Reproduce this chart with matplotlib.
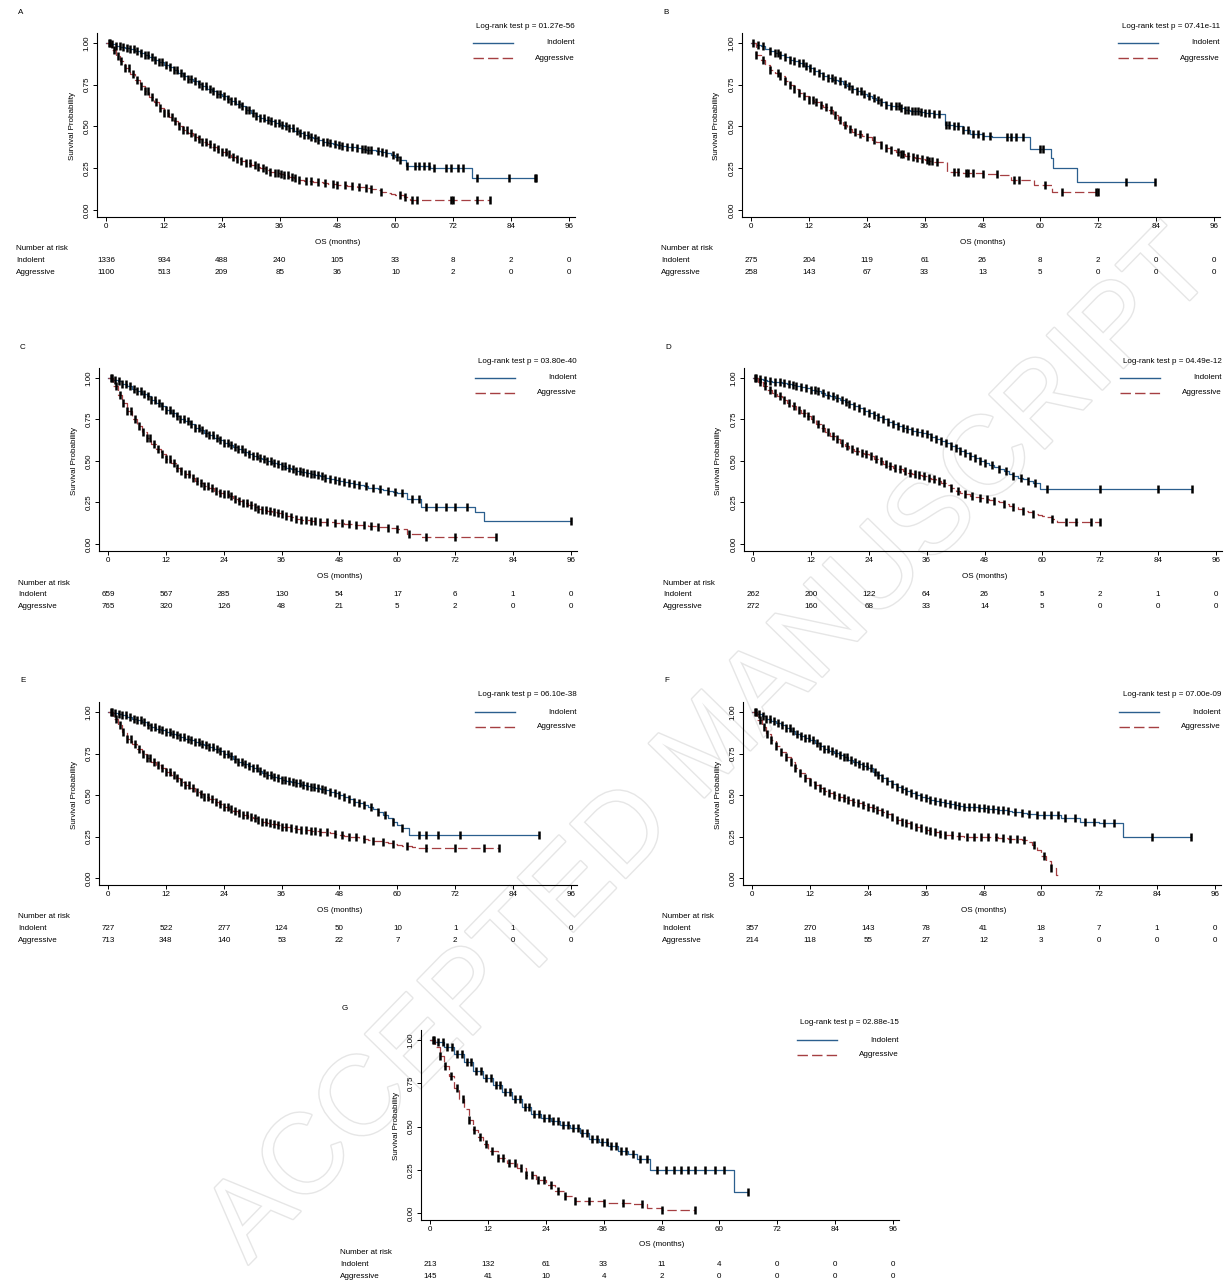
import numpy as np
import matplotlib
matplotlib.use("Agg")
import matplotlib.pyplot as plt
import matplotlib.patheffects as pe
from matplotlib.lines import Line2D

plt.rcParams["font.family"] = ["Liberation Sans", "DejaVu Sans"]

W, H = 1227, 1283
IND_COLOR = "#2b5f8e"
AGG_COLOR = "#a53f42"

# =========================
# data
# =========================
months = [0, 12, 24, 36, 48, 60, 72, 84, 96]
y_ticks = [0.0, 0.25, 0.50, 0.75, 1.00]
panel_labels = ["A", "B", "C", "D", "E", "F", "G"]
p_values = ["01.27e-56", "07.41e-11", "03.80e-40", "04.49e-12",
            "06.10e-38", "07.00e-09", "02.88e-15"]

risk_ind = [
    [1336, 934, 488, 240, 105, 33, 8, 2, 0],
    [275, 204, 119, 61, 26, 8, 2, 0, 0],
    [659, 567, 285, 130, 54, 17, 6, 1, 0],
    [262, 200, 122, 64, 26, 5, 2, 1, 0],
    [727, 522, 277, 124, 50, 10, 1, 1, 0],
    [357, 270, 143, 78, 41, 18, 7, 1, 0],
    [213, 132, 61, 33, 11, 4, 0, 0, 0],
]
risk_agg = [
    [1100, 513, 209, 85, 36, 10, 2, 0, 0],
    [258, 143, 67, 33, 13, 5, 0, 0, 0],
    [765, 320, 126, 48, 21, 5, 2, 0, 0],
    [272, 160, 68, 33, 14, 5, 0, 0, 0],
    [713, 348, 140, 53, 22, 7, 2, 0, 0],
    [214, 118, 55, 27, 12, 3, 0, 0, 0],
    [145, 41, 10, 4, 2, 0, 0, 0, 0],
]

# survival read month by month, then the visible late steps
# panel A
a_ind_t = list(range(0, 62)) + [62.3, 67.2, 75.8, 89.2]
a_ind_s = [1.0, .995, .985, .978, .97, .963, .955, .94, .93, .915,
           .90, .885, .87, .855, .84, .82, .80, .785, .77, .755,
           .74, .725, .71, .695, .68, .665, .65, .635, .62, .60,
           .58, .565, .55, .54, .53, .52, .51, .50, .49, .475,
           .46, .45, .44, .43, .42, .41, .40, .395, .39, .385,
           .38, .375, .37, .365, .36, .357, .355, .35, .34, .33,
           .32, .30,
           .266, .25, .19, .19]
a_ind_c = [0.6, 1.3, 2.1, 2.8, 3.5, 4.3, 5.0, 5.8, 6.5, 7.2, 8.0, 8.7, 9.5, 10.2, 11.0, 11.7,
           12.5, 13.2, 14.0, 14.7, 15.5, 16.2, 17.0, 17.7, 18.5, 19.2, 20.0, 20.7, 21.5, 22.2,
           23.0, 23.7, 24.5, 25.2, 26.0, 26.7, 27.5, 28.2, 29.0, 29.7, 30.5, 31.2, 32.0, 32.7,
           33.5, 34.2, 35.0, 35.8, 36.5, 37.3, 38.0, 38.8, 39.5, 40.3, 41.0, 41.8, 42.5, 43.3,
           44.0, 45.0, 45.8, 46.5, 47.5, 48.3, 49.0, 50.0, 51.0, 52.0, 53.0, 53.6, 54.3, 55.0,
           56.5, 57.2, 58.0, 59.5, 60.3, 61.0, 62.5, 64.0, 65.0, 66.0, 67.0, 68.0, 70.5, 71.5,
           73.0, 74.0, 77.0, 83.5, 89.0, 89.2]
a_agg_t = list(range(0, 61)) + [61.7, 63, 79.7]
a_agg_s = [1.0, .96, .925, .89, .85, .815, .78, .745, .71, .675,
           .645, .61, .58, .555, .53, .505, .48, .46, .44, .425,
           .41, .395, .38, .365, .35, .335, .32, .307, .295, .282,
           .27, .26, .25, .24, .23, .222, .215, .207, .20, .19,
           .18, .176, .172, .168, .165, .161, .157, .153, .15, .148,
           .145, .142, .14, .135, .13, .125, .12, .11, .10, .095,
           .09,
           .08, .06, .06]
a_agg_c = [0.8, 1.6, 2.4, 3.2, 4.0, 4.8, 5.6, 6.4, 7.2, 8.0, 8.8, 9.6, 10.4, 11.2, 12.0, 12.8,
           13.6, 14.4, 15.2, 16.0, 16.8, 17.6, 18.4, 19.2, 20.0, 20.8, 21.6, 22.4, 23.2, 24.0,
           24.8, 25.6, 26.4, 27.2, 28.0, 29.0, 29.8, 30.8, 31.5, 32.5, 33.2, 34.0, 35.0, 35.6,
           36.3, 37.0, 37.8, 38.5, 39.2, 40.0, 41.5, 42.5, 44.0, 45.5, 47.0, 48.0, 49.5, 51.0,
           52.5, 54.0, 55.0, 57.0, 61.0, 62.0, 63.5, 64.5, 71.5, 72.0, 77.0, 79.7]

# panel B
b_ind_t = list(range(0, 41)) + [40.3, 42, 44, 45.4, 48, 50, 57.8, 62.2, 62.6, 67.6, 83.7]
b_ind_s = [1.0, .99, .98, .965, .95, .94, .93, .915, .90, .89,
           .88, .865, .85, .835, .82, .805, .79, .78, .77, .755,
           .74, .725, .71, .695, .68, .67, .66, .645, .63, .625,
           .62, .61, .60, .595, .59, .585, .58, .578, .575, .575,
           .575,
           .51, .50, .48, .455, .445, .435, .366, .31, .25, .168, .168]
b_ind_c = [0.5, 1.5, 2.5, 4.0, 5.0, 5.5, 6.0, 7.0, 8.0, 9.0, 10.0, 10.8, 11.5, 12.3, 13.0,
           14.0, 15.0, 16.0, 16.8, 17.5, 18.5, 19.5, 20.3, 21.0, 22.0, 22.8, 23.5, 24.5, 25.5,
           26.3, 27.0, 28.0, 29.0, 30.0, 30.6, 31.2, 32.0, 32.6, 33.3, 34.0, 34.6, 35.2, 36.0,
           37.0, 38.0, 39.0, 40.5, 41.0, 42.0, 43.0, 44.0, 45.0, 46.0, 47.0, 48.0, 49.5, 53.0,
           54.0, 55.0, 56.5, 60.0, 60.5, 77.8, 83.7]
b_agg_t = list(range(0, 41)) + [40.7, 44, 48, 51.6, 54, 58.6, 62.5, 72]
b_agg_s = [1.0, .93, .90, .87, .84, .82, .80, .775, .75, .725,
           .70, .68, .66, .645, .63, .615, .60, .57, .54, .51,
           .485, .47, .455, .445, .435, .42, .41, .39, .37, .36,
           .35, .337, .325, .317, .31, .305, .30, .295, .29, .29,
           .29,
           .228, .222, .218, .208, .178, .149, .109, .109]
b_agg_c = [1.0, 2.5, 4.0, 5.5, 6.0, 7.0, 8.0, 9.0, 10.0, 11.0, 12.0, 12.8, 13.5, 14.5, 15.5,
           16.5, 17.5, 18.5, 19.5, 20.5, 21.5, 22.5, 24.0, 25.5, 27.0, 28.0, 29.0, 30.5, 31.0,
           31.5, 32.5, 33.5, 34.5, 35.5, 36.5, 37.0, 37.5, 38.5, 42.0, 43.0, 44.5, 45.0, 46.0,
           48.0, 51.0, 54.5, 55.5, 61.0, 64.5, 71.5, 72.0]

# panel C
c_ind_t = list(range(0, 61)) + [62, 65, 76, 78, 96]
c_ind_s = [1.0, .99, .98, .965, .95, .935, .92, .905, .89, .87,
           .85, .83, .81, .79, .77, .755, .74, .72, .70, .685,
           .67, .655, .64, .625, .61, .597, .583, .57, .557, .543,
           .53, .52, .51, .50, .49, .48, .47, .46, .45, .44,
           .433, .427, .42, .413, .407, .40, .393, .387, .38, .373,
           .367, .36, .353, .347, .34, .335, .33, .325, .32, .315,
           .31,
           .27, .22, .19, .14, .14]
c_ind_c = [0.7, 1.5, 2.3, 3.0, 3.8, 4.5, 5.3, 6.0, 6.8, 7.5, 8.3, 9.0, 9.8, 10.5, 11.3, 12.0,
           12.8, 13.5, 14.3, 15.0, 15.8, 16.5, 17.3, 18.0, 18.8, 19.5, 20.3, 21.0, 21.8, 22.5,
           23.3, 24.0, 24.8, 25.5, 26.3, 27.0, 27.8, 28.5, 29.3, 30.0, 30.8, 31.5, 32.3, 33.0,
           33.8, 34.5, 35.3, 36.0, 36.8, 37.5, 38.3, 39.0, 39.8, 40.5, 41.3, 42.0, 42.8, 43.5,
           44.3, 45.0, 46.0, 47.0, 48.0, 49.0, 50.0, 51.0, 52.0, 53.5, 55.0, 56.5, 58.0, 59.5,
           61.0, 63.0, 64.5, 66.0, 68.0, 70.0, 72.0, 74.5, 96.0]
c_agg_t = list(range(0, 61)) + [62, 65, 80.5]
c_agg_s = [1.0, .95, .90, .85, .80, .755, .71, .675, .64, .605,
           .57, .54, .51, .485, .46, .44, .42, .40, .38, .365,
           .35, .335, .32, .31, .30, .287, .273, .26, .247, .233,
           .22, .213, .207, .20, .193, .187, .18, .17, .16, .152,
           .145, .142, .14, .137, .135, .132, .13, .127, .125, .122,
           .12, .117, .115, .112, .11, .107, .105, .10, .097, .095,
           .09,
           .06, .04, .04]
c_agg_c = [0.8, 1.6, 2.4, 3.2, 4.0, 4.8, 5.6, 6.4, 7.2, 8.0, 8.8, 9.6, 10.4, 11.2, 12.0, 12.8,
           13.6, 14.4, 15.2, 16.0, 16.8, 17.6, 18.4, 19.2, 20.0, 20.8, 21.6, 22.4, 23.2, 24.0,
           24.8, 25.6, 26.4, 27.2, 28.0, 28.8, 29.6, 30.4, 31.2, 32.0, 32.8, 33.6, 34.4, 35.2,
           36.0, 37.0, 38.0, 39.0, 40.0, 41.0, 42.0, 43.0, 44.0, 45.5, 47.0, 48.5, 50.0, 51.5,
           53.0, 54.5, 56.0, 58.0, 60.0, 62.5, 66.0, 72.0, 80.5]

# panel D
d_ind_t = list(range(0, 59)) + [59.5, 91]
d_ind_s = [1.0, .995, .99, .98, .977, .973, .97, .963, .957, .95,
           .943, .937, .93, .92, .91, .90, .89, .88, .87, .857,
           .843, .83, .817, .803, .79, .777, .763, .75, .737, .723,
           .71, .70, .69, .68, .673, .667, .66, .647, .633, .62,
           .607, .593, .58, .563, .547, .53, .517, .503, .49, .477,
           .463, .45, .437, .423, .41, .40, .39, .38, .37,
           .33, .33]
d_ind_c = [0.5, 1.5, 2.5, 3.5, 4.5, 5.5, 6.5, 7.5, 8.3, 9.0, 10.0, 11.0, 12.0, 12.8, 13.5,
           14.5, 15.5, 16.5, 17.5, 18.5, 19.3, 20.0, 21.0, 22.0, 23.0, 24.0, 25.0, 26.0, 27.0,
           28.0, 29.0, 30.0, 31.0, 32.0, 33.0, 34.0, 35.0, 36.0, 37.0, 38.0, 39.0, 40.0, 41.0,
           42.0, 43.0, 44.0, 45.0, 46.0, 47.0, 48.0, 49.5, 51.0, 52.5, 54.0, 55.5, 57.0, 58.5,
           61.0, 72.0, 84.0, 91.0]
d_agg_t = list(range(0, 63)) + [63, 72]
d_agg_s = [1.0, .975, .95, .93, .91, .89, .87, .85, .83, .81,
           .79, .77, .75, .725, .70, .675, .65, .63, .61, .59,
           .57, .56, .55, .54, .53, .513, .497, .48, .47, .46,
           .45, .44, .43, .42, .413, .407, .40, .39, .38, .37,
           .353, .337, .32, .31, .30, .29, .283, .277, .27, .263,
           .257, .25, .24, .23, .22, .21, .20, .19, .183, .177,
           .17, .16, .15,
           .13, .13]
d_agg_c = [0.7, 1.5, 2.5, 3.5, 4.5, 5.5, 6.5, 7.5, 8.5, 9.5, 10.5, 11.5, 12.5, 13.5, 14.5,
           15.5, 16.5, 17.5, 18.5, 19.5, 20.5, 21.5, 22.5, 23.5, 24.5, 25.5, 26.5, 27.5, 28.5,
           29.5, 30.5, 31.5, 32.5, 33.5, 34.5, 35.5, 36.5, 37.5, 38.5, 39.5, 41.0, 42.5, 44.0,
           45.5, 47.0, 48.5, 50.0, 52.0, 54.0, 56.0, 58.0, 62.0, 65.0, 67.0, 70.0, 72.0]

# panel E
e_ind_t = list(range(0, 62)) + [62.5, 89.4]
e_ind_s = [1.0, .995, .99, .98, .97, .96, .95, .937, .923, .91,
           .90, .89, .88, .87, .86, .85, .84, .83, .82, .81,
           .80, .79, .777, .763, .75, .733, .717, .70, .687, .673,
           .66, .647, .633, .62, .61, .60, .59, .583, .577, .57,
           .563, .557, .55, .543, .537, .53, .52, .51, .50, .487,
           .473, .46, .45, .44, .43, .415, .40, .38, .36, .34,
           .32, .30,
           .26, .26]
e_ind_c = [0.7, 1.5, 2.3, 3.0, 3.8, 4.5, 5.3, 6.0, 6.8, 7.5, 8.3, 9.0, 9.8, 10.5, 11.3, 12.0,
           12.8, 13.5, 14.3, 15.0, 15.8, 16.5, 17.3, 18.0, 18.8, 19.5, 20.3, 21.0, 21.8, 22.5,
           23.3, 24.0, 24.8, 25.5, 26.3, 27.0, 27.8, 28.5, 29.3, 30.0, 30.8, 31.5, 32.3, 33.0,
           33.8, 34.5, 35.3, 36.0, 36.8, 37.5, 38.3, 39.0, 39.8, 40.5, 41.3, 42.0, 42.8, 43.5,
           44.3, 45.0, 46.0, 47.0, 48.0, 49.0, 50.0, 51.0, 52.0, 53.0, 54.5, 56.0, 57.5, 59.0,
           61.0, 64.5, 66.0, 68.5, 73.0, 89.4]
e_agg_t = list(range(0, 64)) + [64, 81]
e_agg_s = [1.0, .96, .92, .88, .84, .81, .78, .75, .72, .70,
           .68, .66, .64, .62, .60, .58, .56, .54, .52, .505,
           .49, .475, .46, .445, .43, .417, .403, .39, .38, .37,
           .36, .35, .34, .33, .323, .317, .31, .305, .30, .295,
           .29, .288, .285, .283, .28, .275, .27, .265, .26, .255,
           .25, .245, .24, .235, .23, .225, .22, .215, .21, .205,
           .20, .195, .19, .185,
           .18, .18]
e_agg_c = [0.8, 1.6, 2.4, 3.2, 4.0, 4.8, 5.6, 6.4, 7.2, 8.0, 8.8, 9.6, 10.4, 11.2, 12.0, 12.8,
           13.6, 14.4, 15.2, 16.0, 16.8, 17.6, 18.4, 19.2, 20.0, 20.8, 21.6, 22.4, 23.2, 24.0,
           24.8, 25.6, 26.4, 27.2, 28.0, 28.8, 29.6, 30.4, 31.2, 32.0, 32.8, 33.6, 34.4, 35.2,
           36.0, 37.0, 38.0, 39.0, 40.0, 41.0, 42.0, 43.0, 44.0, 45.5, 47.0, 48.5, 50.0, 51.5,
           53.0, 55.0, 57.0, 59.0, 62.0, 66.0, 72.0, 78.0, 81.0]

# panel F
f_ind_t = list(range(0, 61)) + [64, 68, 72, 77, 91]
f_ind_s = [1.0, .987, .973, .96, .947, .933, .92, .903, .887, .87,
           .857, .843, .83, .813, .797, .78, .767, .753, .74, .727,
           .713, .70, .687, .673, .66, .64, .62, .60, .583, .567,
           .55, .537, .523, .51, .50, .49, .48, .472, .465, .457,
           .45, .445, .44, .435, .43, .427, .425, .422, .42, .417,
           .415, .412, .41, .405, .40, .395, .39, .387, .385, .382,
           .38,
           .36, .34, .33, .25, .25]
f_ind_c = [0.6, 1.4, 2.2, 3.0, 3.8, 4.6, 5.4, 6.2, 7.0, 7.8, 8.6, 9.4, 10.2, 11.0, 11.8, 12.6,
           13.4, 14.2, 15.0, 15.8, 16.6, 17.4, 18.2, 19.0, 19.8, 20.6, 21.4, 22.2, 23.0, 23.8,
           24.6, 25.4, 26.2, 27.0, 28.0, 29.0, 30.0, 31.0, 32.0, 33.0, 34.0, 35.0, 36.0, 37.0,
           38.0, 39.0, 40.0, 41.0, 42.0, 43.0, 44.0, 45.0, 46.0, 47.0, 48.0, 49.0, 50.0, 51.0,
           52.0, 53.0, 54.5, 56.0, 57.5, 59.0, 60.5, 62.0, 63.5, 65.0, 67.0, 69.0, 71.0, 73.0,
           75.0, 83.0, 91.0]
f_agg_t = list(range(0, 58)) + [58, 59, 60, 61, 62, 63, 63.6]
f_agg_s = [1.0, .95, .91, .87, .83, .795, .76, .73, .70, .665,
           .63, .605, .58, .56, .54, .525, .51, .50, .49, .48,
           .47, .46, .45, .44, .43, .42, .41, .40, .383, .367,
           .35, .34, .33, .32, .31, .30, .29, .282, .275, .267,
           .26, .257, .255, .252, .25, .25, .25, .25, .25, .247,
           .245, .242, .24, .237, .235, .232, .23, .215,
           .20, .17, .13, .10, .06, .02, .02]
f_agg_c = [0.8, 1.6, 2.4, 3.2, 4.0, 5.0, 6.0, 7.0, 8.0, 9.0, 10.0, 11.0, 12.0, 13.0, 14.0,
           15.0, 16.0, 17.0, 18.0, 19.0, 20.0, 21.0, 22.0, 23.0, 24.0, 25.0, 26.0, 27.0, 28.0,
           29.0, 30.0, 31.0, 32.0, 33.0, 34.0, 35.0, 36.0, 37.0, 38.0, 39.0, 40.0, 41.5, 43.0,
           44.5, 46.0, 47.5, 49.0, 50.5, 52.0, 53.5, 55.0, 56.5, 58.5, 60.5, 62.0]

# panel G
g_ind_t = [0, 1, 3, 5, 7, 9, 11, 13, 15, 17, 19, 21, 23, 25, 27, 29, 31, 33, 35, 37, 39, 41,
           43, 45.6, 63, 66]
g_ind_s = [1.0, 0.99, 0.96, 0.92, 0.87, 0.82, 0.78, 0.74, 0.70, 0.66, 0.61, 0.57, 0.55, 0.53,
           0.51, 0.49, 0.46, 0.43, 0.41, 0.39, 0.36, 0.34, 0.31, 0.25, 0.12, 0.12]
g_ind_c = [0.6, 1.6, 2.6, 3.6, 4.6, 5.6, 6.6, 7.6, 8.6, 9.6, 10.6, 11.6, 12.6, 13.6, 14.6,
           15.6, 16.6, 17.6, 18.6, 19.6, 20.6, 21.6, 22.6, 23.6, 24.6, 25.6, 26.6, 27.6, 28.6,
           29.6, 30.6, 31.6, 32.6, 33.6, 34.6, 35.6, 36.6, 37.6, 38.6, 39.6, 40.6, 42.0, 43.5,
           45.0, 47.0, 49.0, 50.5, 52.0, 53.5, 55.0, 57.0, 59.0, 61.0, 66.0]
g_agg_t = [0, 1, 2, 3, 4, 5, 6, 7, 8, 9, 10, 11, 12, 14, 16, 18, 20, 22, 24, 26, 28, 30, 36,
           42, 45, 48, 55]
g_agg_s = [1.0, 0.96, 0.91, 0.85, 0.79, 0.72, 0.66, 0.60, 0.54, 0.48, 0.44, 0.40, 0.36, 0.32,
           0.29, 0.26, 0.22, 0.19, 0.16, 0.13, 0.10, 0.07, 0.06, 0.05, 0.03, 0.02, 0.02]
g_agg_c = [0.8, 2.0, 3.2, 4.4, 5.6, 6.8, 8.0, 9.2, 10.4, 11.6, 12.8, 14.0, 15.2, 16.4, 17.6,
           18.8, 20.0, 21.2, 22.4, 23.6, 25.0, 26.5, 28.0, 30.0, 33.0, 36.0, 40.0, 44.0, 48.0,
           55.0]

# =========================
# layout (pixels in the 1227x1283 picture)
# =========================
panel_x0 = [106, 751, 108, 753, 108, 752, 430]    # pixel of t = 0
panel_y1 = [43, 43, 378, 378, 712, 712, 1040]     # pixel of S = 1.00
panel_h = [167, 167, 166, 166, 166, 166, 173]     # pixels from 1.00 to 0.00
PX_W = 463.0                                      # pixels from 0 to 96 months
XLIM = (-1.9, 97.3)
YLIM = (-0.04, 1.06)
FS = 5.8
AGG_DASH = (0, (7.5, 3))


def fx(px):
    return px / W


def fy(py):
    return 1 - py / H


def step_at(t, s, c):
    idx = np.searchsorted(t, c, side="right") - 1
    return np.asarray(s)[np.clip(idx, 0, len(s) - 1)]


def draw_panel(fig, k, ind, agg):
    x0, y1, hh = panel_x0[k], panel_y1[k], panel_h[k]
    y0 = y1 + hh
    pxm = PX_W / 96.0

    left = x0 + XLIM[0] * pxm
    right = x0 + XLIM[1] * pxm
    top = y0 - YLIM[1] * hh
    bottom = y0 - YLIM[0] * hh
    ax = fig.add_axes([fx(left), fy(bottom), (right - left) / W, (bottom - top) / H])
    ax.patch.set_alpha(0)

    for (t, s, c), color, ls in [(ind, IND_COLOR, "-"), (agg, AGG_COLOR, AGG_DASH)]:
        ax.step(t, s, where="post", color=color, lw=0.9, linestyle=ls, zorder=2)
        ax.plot(c, step_at(t, s, c), ls="none", marker="|", ms=5.3, mew=1.8,
                color="black", zorder=3)

    ax.set_xlim(*XLIM)
    ax.set_ylim(*YLIM)
    ax.set_xticks(months)
    ax.set_xticklabels([str(m) for m in months])
    ax.set_yticks(y_ticks)
    ax.set_yticklabels([f"{v:.2f}" for v in y_ticks], rotation=90, va="center")
    ax.tick_params(length=3, width=0.7, labelsize=FS, pad=1.5)
    for side in ["top", "right"]:
        ax.spines[side].set_visible(False)
    for side in ["left", "bottom"]:
        ax.spines[side].set_linewidth(0.8)

    # labels
    fig.text(fx(x0 - 88), fy(y1 - 31), panel_labels[k], fontsize=FS, ha="left", va="center")
    fig.text(fx(x0 - 34), fy((y1 + y0) / 2), "Survival Probability", fontsize=FS,
             rotation=90, ha="center", va="center")
    fig.text(fx(x0 + PX_W / 2), fy(y0 + 32), "OS (months)", fontsize=FS,
             ha="center", va="center")

    # log-rank and legend
    rx = x0 + 469
    fig.text(fx(rx), fy(y1 - 17), "Log-rank test p = " + p_values[k], fontsize=FS,
             ha="right", va="center")
    for dy, name, color, ls in [(0, "Indolent", IND_COLOR, "-"),
                                (15, "Aggressive", AGG_COLOR, AGG_DASH)]:
        fig.add_artist(Line2D([fx(x0 + 367), fx(x0 + 407)], [fy(y1 + dy), fy(y1 + dy)],
                              color=color, lw=1.0, linestyle=ls))
        fig.text(fx(rx), fy(y1 + dy), name, fontsize=FS, ha="right", va="center")

    # number at risk
    fig.text(fx(x0 - 90), fy(y0 + 39), "Number at risk", fontsize=FS, ha="left", va="center")
    for dy, name, vals in [(51, "Indolent", risk_ind[k]), (63, "Aggressive", risk_agg[k])]:
        fig.text(fx(x0 - 90), fy(y0 + dy), name, fontsize=FS, ha="left", va="center")
        for m, v in zip(months, vals):
            fig.text(fx(x0 + m * pxm), fy(y0 + dy), str(v), fontsize=FS,
                     ha="center", va="center")


def main():
    fig = plt.figure(figsize=(W / 100, H / 100), dpi=100)

    # watermark
    fig.text(fx(712), fy(748), "ACCEPTED MANUSCRIPT", fontsize=81, rotation=45.7,
             rotation_mode="anchor", ha="center", va="center", color="white", zorder=-5,
             path_effects=[pe.Stroke(linewidth=2.0, foreground="#e6e6e6"), pe.Normal()])

    curves = [
        ((a_ind_t, a_ind_s, a_ind_c), (a_agg_t, a_agg_s, a_agg_c)),
        ((b_ind_t, b_ind_s, b_ind_c), (b_agg_t, b_agg_s, b_agg_c)),
        ((c_ind_t, c_ind_s, c_ind_c), (c_agg_t, c_agg_s, c_agg_c)),
        ((d_ind_t, d_ind_s, d_ind_c), (d_agg_t, d_agg_s, d_agg_c)),
        ((e_ind_t, e_ind_s, e_ind_c), (e_agg_t, e_agg_s, e_agg_c)),
        ((f_ind_t, f_ind_s, f_ind_c), (f_agg_t, f_agg_s, f_agg_c)),
        ((g_ind_t, g_ind_s, g_ind_c), (g_agg_t, g_agg_s, g_agg_c)),
    ]
    for k, (ind, agg) in enumerate(curves):
        draw_panel(fig, k, ind, agg)

    fig.savefig("out.png", dpi=100)


if __name__ == "__main__":
    main()
